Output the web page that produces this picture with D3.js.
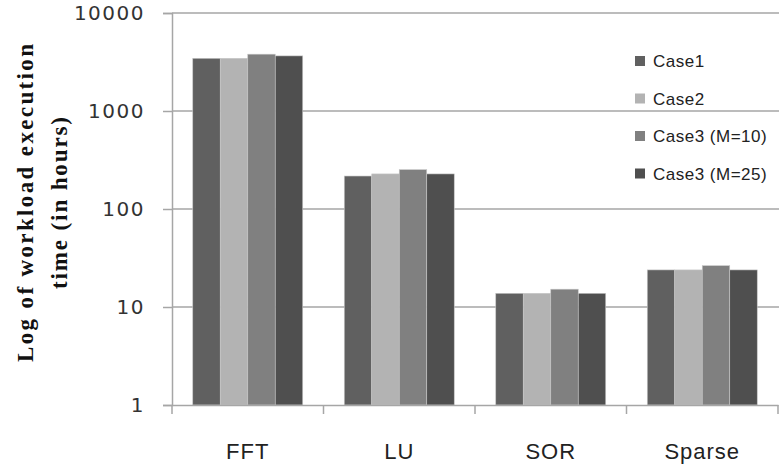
<!DOCTYPE html>
<meta charset="utf-8">
<script src="https://d3js.org/d3.v7.min.js"></script>
<style>
  body { margin: 0; background: #fff; }
</style>
<div id="chart"></div>
<script>
    // data
    var categories = ["FFT", "LU", "SOR", "Sparse"];
    var series = ["Case1", "Case2", "Case3 (M=10)", "Case3 (M=25)"];
    var case1 = [3450, 217, 13.8, 23.9];
    var case2 = [3450, 228, 13.8, 23.9];
    var case3m10 = [3800, 252, 15.2, 26.4];
    var case3m25 = [3650, 228, 13.8, 23.9];
    var yTicks = [1, 10, 100, 1000, 10000];
    var colors = ["#606060", "#b3b3b3", "#808080", "#4f4f4f"];

    var values = [case1, case2, case3m10, case3m25];

    var width = 782, height = 468;
    var margin = {top: 13, right: 4, bottom: 63, left: 172};

    var svg = d3.select("#chart")
      .append("svg")
        .attr("width", width)
        .attr("height", height);

    var x0 = d3.scaleBand()
      .domain(categories)
      .range([margin.left, width - margin.right])
      .paddingInner(0);

    var x1 = d3.scaleBand()
      .domain(series)
      .range([0, x0.bandwidth()])
      .paddingInner(0)
      .paddingOuter(0.755);

    var y = d3.scaleLog()
      .domain([1, 10000])
      .range([height - margin.bottom, margin.top]);

    var gridColor = "#a6a6a6";

    // gridlines
    svg.append("g")
      .selectAll("line")
      .data(yTicks.slice(1))
      .enter()
      .append("line")
        .attr("x1", margin.left)
        .attr("x2", width - 3)
        .attr("y1", d => y(d))
        .attr("y2", d => y(d))
        .attr("stroke", gridColor)
        .attr("stroke-width", 1.5);

    // Y axis
    var yAxis = svg.append("g")
      .attr("transform", "translate(" + margin.left + ",0)")
      .call(d3.axisLeft(y).tickValues(yTicks).tickFormat(d3.format("d")).tickSize(9).tickPadding(18));
    yAxis.select(".domain").attr("stroke", gridColor).attr("stroke-width", 1.5);
    yAxis.selectAll(".tick line").attr("stroke", gridColor).attr("stroke-width", 1.5);
    yAxis.selectAll("text")
      .attr("fill", "#333")
      .style("font-family", "'DejaVu Sans', sans-serif")
      .style("font-size", "20px")
      .style("letter-spacing", "1.5px");

    // bars
    var groups = svg.append("g")
      .selectAll("g")
      .data(categories)
      .enter()
      .append("g")
        .attr("transform", d => "translate(" + x0(d) + ",0)");

    groups.selectAll("rect")
      .data((d, i) => series.map((s, j) => ({s: s, v: values[j][i], c: colors[j]})))
      .enter()
      .append("rect")
        .attr("x", d => x1(d.s))
        .attr("y", d => y(d.v))
        .attr("width", x1.bandwidth())
        .attr("height", d => y(1) - y(d.v))
        .attr("fill", d => d.c)
        .attr("stroke", "#c8c8c8")
        .attr("stroke-width", 0.6);

    // X axis
    var xAxis = svg.append("g")
      .attr("transform", "translate(0," + y(1) + ")")
      .call(d3.axisBottom(x0).tickSize(0).tickPadding(38));
    xAxis.select(".domain").attr("stroke", gridColor).attr("stroke-width", 1.5);
    xAxis.selectAll("text")
      .attr("fill", "#222")
      .style("font-family", "'Liberation Sans', sans-serif")
      .style("font-size", "22px")
      .style("letter-spacing", "1px");

    // category boundary ticks
    var bounds = categories.map(d => x0(d)).concat([x0(categories[categories.length - 1]) + x0.bandwidth()]);
    svg.append("g")
      .selectAll("line")
      .data(bounds)
      .enter()
      .append("line")
        .attr("x1", d => d)
        .attr("x2", d => d)
        .attr("y1", y(1))
        .attr("y2", y(1) + 9)
        .attr("stroke", gridColor)
        .attr("stroke-width", 1.5);

    // Y title
    var title = svg.append("text")
      .attr("transform", "translate(0,203) rotate(-90)")
      .attr("text-anchor", "middle")
      .style("font-family", "'Liberation Serif', serif")
      .style("font-weight", "bold")
      .style("font-size", "23px")
      .attr("fill", "#111");
    title.append("tspan").attr("x", 0).attr("y", 33).text("Log of workload execution")
      .attr("textLength", 318).attr("lengthAdjust", "spacing");
    title.append("tspan").attr("x", 0).attr("y", 67).text("time (in hours)")
      .attr("textLength", 172).attr("lengthAdjust", "spacing");

    // legend
    var legend = svg.append("g")
      .selectAll("g")
      .data(series)
      .enter()
      .append("g")
        .attr("transform", (d, i) => "translate(635," + (61 + i * 37.5) + ")");
    legend.append("rect")
      .attr("x", 0)
      .attr("y", -5)
      .attr("width", 10)
      .attr("height", 10)
      .attr("fill", (d, i) => colors[i]);
    legend.append("text")
      .attr("x", 18)
      .attr("y", 6)
      .text(d => d)
      .attr("fill", "#222")
      .style("font-family", "'Liberation Sans', sans-serif")
      .style("font-size", "17px")
      .style("letter-spacing", "0.5px");
</script>
